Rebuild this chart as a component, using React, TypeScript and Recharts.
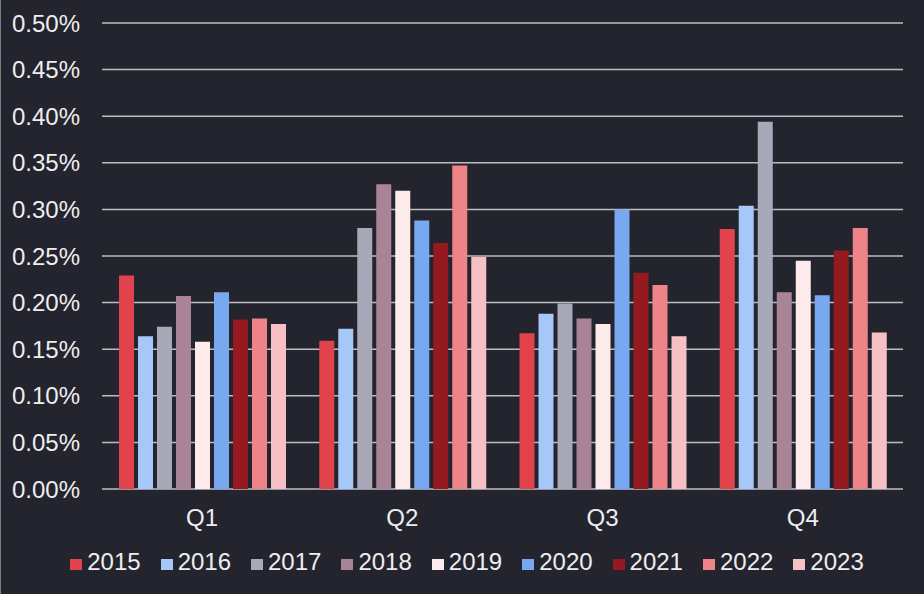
import { BarChart, Bar, XAxis, YAxis, CartesianGrid, Legend } from "recharts";

const quarters = ["Q1", "Q2", "Q3", "Q4"];
const years = ["2015", "2016", "2017", "2018", "2019", "2020", "2021", "2022", "2023"];

// values in percent, one array per year (Q1..Q4)
const y2015 = [0.229, 0.159, 0.167, 0.279];
const y2016 = [0.164, 0.172, 0.188, 0.304];
const y2017 = [0.174, 0.28, 0.199, 0.394];
const y2018 = [0.207, 0.327, 0.183, 0.211];
const y2019 = [0.158, 0.32, 0.177, 0.245];
const y2020 = [0.211, 0.288, 0.3, 0.208];
const y2021 = [0.182, 0.264, 0.232, 0.256];
const y2022 = [0.183, 0.347, 0.219, 0.28];
const y2023 = [0.177, 0.249, 0.164, 0.168];

const yTicks = [0, 0.05, 0.1, 0.15, 0.2, 0.25, 0.3, 0.35, 0.4, 0.45, 0.5];

const colors = [
  "#e0434c",
  "#a6c8f8",
  "#a8a8b8",
  "#a88496",
  "#fdebeb",
  "#78a8f0",
  "#941a20",
  "#ee8488",
  "#f6c0c4",
];

const series = [y2015, y2016, y2017, y2018, y2019, y2020, y2021, y2022, y2023];

const data = quarters.map((q, i) => {
  const row: Record<string, string | number> = { name: q };
  years.forEach((y, j) => {
    row[y] = series[j][i];
  });
  return row;
});

const FONT = '"Liberation Sans", Arial, sans-serif';
const BG = "#24242e";
const TEXT = "#eeeeee";

const LegendContent = ({ payload }: any) => (
  <div
    style={{
      display: "flex",
      justifyContent: "center",
      alignItems: "center",
      height: 32,
      paddingLeft: 10,
      fontFamily: FONT,
      fontSize: 24,
      color: TEXT,
    }}
  >
    {(payload || []).map((p: any, i: number) => (
      <div
        key={p.value}
        style={{ display: "flex", alignItems: "center", marginLeft: i === 0 ? 0 : 20 }}
      >
        <span
          style={{
            display: "inline-block",
            width: 12,
            height: 11,
            background: p.color,
            marginRight: 5,
            marginTop: 4,
          }}
        />
        <span>{p.value}</span>
      </div>
    ))}
  </div>
);

export default function App() {
  return (
    <div style={{ position: "relative", width: 924, height: 594, background: BG }}>
      <style>{`body{margin:0;background:${BG}}`}</style>
      <div
        style={{
          position: "absolute",
          left: 0,
          top: 0,
          width: 1,
          height: 594,
          background: "#7c7c84",
          zIndex: 1,
        }}
      />
      <BarChart
        width={924}
        height={594}
        data={data}
        margin={{ top: 23, right: 21, bottom: 16, left: 0 }}
        barCategoryGap={17}
        barGap={4}
      >
        <CartesianGrid vertical={false} stroke="#bcbcc4" strokeWidth={1.5} />
        <XAxis
          dataKey="name"
          axisLine={false}
          tickLine={false}
          tickSize={0}
          tickMargin={20}
          height={57}
          tick={{ fill: TEXT, fontSize: 24, fontFamily: FONT }}
        />
        <YAxis
          domain={[0, 0.5]}
          ticks={yTicks}
          interval={0}
          width={102}
          axisLine={false}
          tickLine={false}
          tickSize={0}
          tickMargin={22}
          tickFormatter={(v: number) => `${v.toFixed(2)}%`}
          tick={{ fill: TEXT, fontSize: 24, fontFamily: FONT }}
        />
        <Legend
          verticalAlign="bottom"
          height={32}
          wrapperStyle={{ left: 0, width: 924 }}
          content={<LegendContent />}
        />
        {years.map((y, j) => (
          <Bar key={y} dataKey={y} fill={colors[j]} isAnimationActive={false} />
        ))}
      </BarChart>
    </div>
  );
}
